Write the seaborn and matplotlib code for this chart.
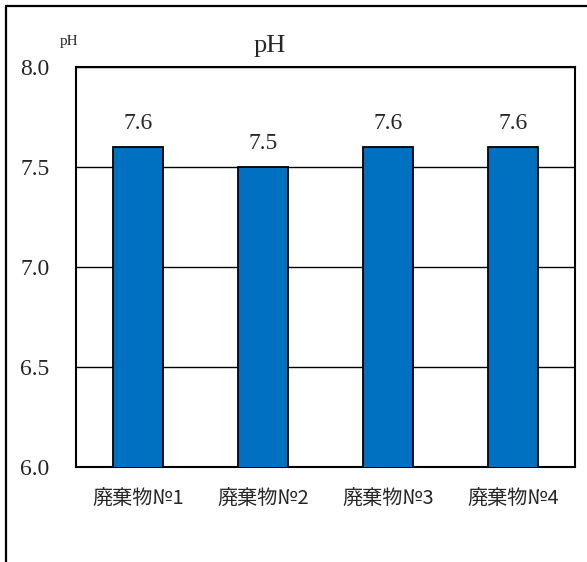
import matplotlib
matplotlib.use('Agg')
import matplotlib.pyplot as plt
from matplotlib.lines import Line2D
import seaborn as sns
import pandas as pd

sns.set_style('white')
plt.rcParams['font.family'] = ['Noto Sans CJK JP', 'DejaVu Sans']

# data
categories = ['廃棄物№1', '廃棄物№2', '廃棄物№3', '廃棄物№4']
ph_values = [7.6, 7.5, 7.6, 7.6]
y_ticks = [6.0, 6.5, 7.0, 7.5, 8.0]

df = pd.DataFrame({'sample': categories, 'pH': ph_values})

fig = plt.figure(figsize=(5.87, 5.62), dpi=100)
ax = fig.add_axes([0.129, 0.169, 0.851, 0.712])

sns.barplot(data=df, x='sample', y='pH', ax=ax, color='#0070C0',
            saturation=1, width=0.4, edgecolor='black', linewidth=1.3, zorder=3)

ax.set_ylim(6.0, 8.0)
ax.set_xlim(-0.5, 3.5)
ax.set_yticks(y_ticks)
ax.set_yticklabels([f'{v:.1f}' for v in y_ticks], family='Liberation Serif', fontsize=17)
ax.tick_params(axis='y', length=0, pad=19)
ax.yaxis.grid(True, color='black', linewidth=1.0, zorder=0)
ax.set_axisbelow(True)

# x tick marks between the categories
ax.set_xticks([i + 0.5 for i in range(-1, len(categories))], minor=True)
ax.tick_params(axis='x', which='minor', length=6, width=1.3, direction='out', color='black')
ax.tick_params(axis='x', which='major', length=0, pad=16, labelsize=14.5)

for s in ax.spines.values():
    s.set_color('black')
    s.set_linewidth(1.5)

ax.set_xlabel('')
ax.set_ylabel('')

for c in ax.containers:
    ax.bar_label(c, fmt='%.1f', padding=9, fontsize=17, family='Liberation Serif')

fig.text(0.46, 0.918, 'pH', ha='center', va='center', fontsize=19, family='Liberation Serif')
fig.text(0.117, 0.926, 'pH', ha='center', va='center', fontsize=11, family='Liberation Serif')

# outer frame (left and top edges visible)
fig.add_artist(Line2D([6 / 587, 6 / 587], [0, 1 - 6 / 562], transform=fig.transFigure, color='black', lw=1.6))
fig.add_artist(Line2D([6 / 587, 1], [1 - 6 / 562, 1 - 6 / 562], transform=fig.transFigure, color='black', lw=1.6))

fig.savefig('out.png', dpi=100, facecolor='white')
